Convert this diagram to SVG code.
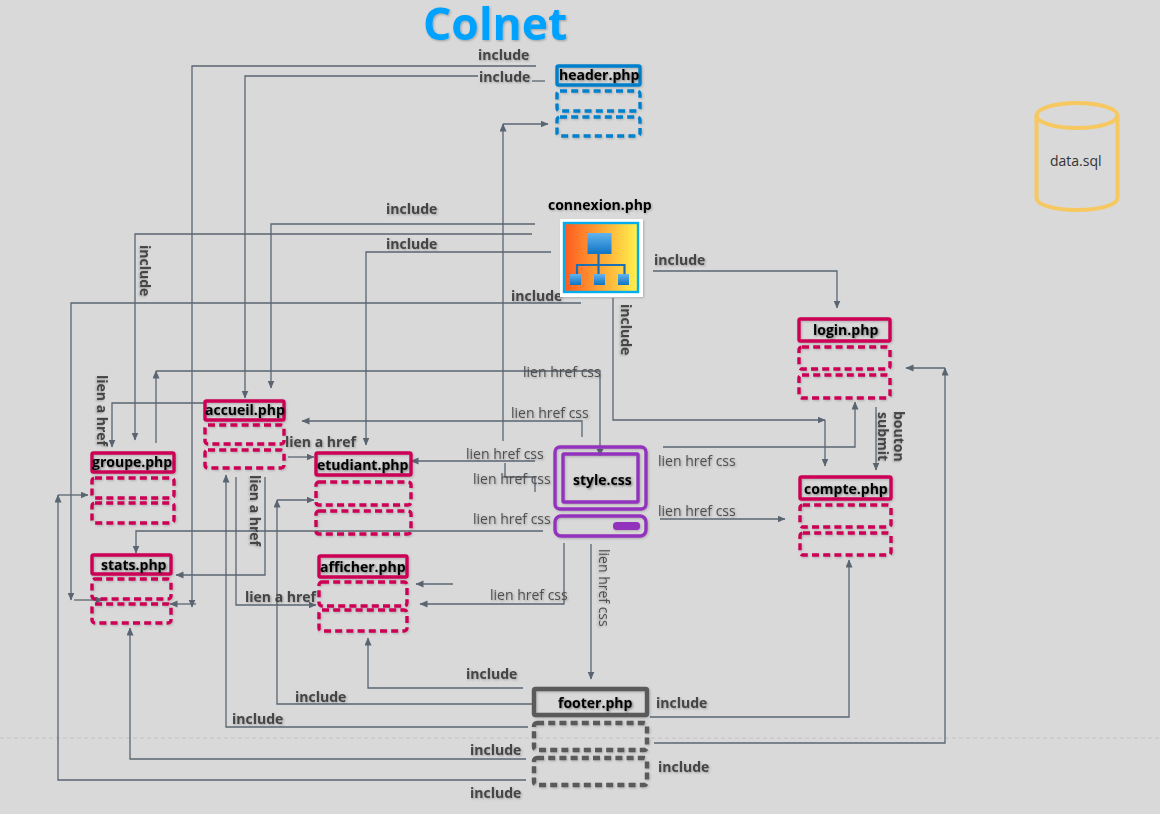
<svg xmlns="http://www.w3.org/2000/svg" width="1160" height="814" viewBox="0 0 1160 814">
<style>
text{font-family:"Open Sans","Liberation Sans",sans-serif}
.lb{font-size:14px;font-weight:700;fill:#444;filter:url(#ts)}
.lh{font-size:14px;font-weight:400;fill:#4f4f4f;filter:url(#ts)}
.nt{font-size:14px;font-weight:700;fill:#000;filter:url(#ts)}
.c{fill:none;stroke:#5a6572;stroke-width:1.3}
.a{marker-end:url(#arr)}
.s{fill:none;stroke-width:3.4;stroke-linejoin:round}
.d{fill:none;stroke-width:3.4;stroke-dasharray:7 4.2;stroke-linejoin:round}
.r{stroke:#cc0055}.b{stroke:#0080cc}.g{stroke:#5a5a5a}.p{stroke:#9232bd}
</style>
<defs>
<marker id="arr" markerWidth="9" markerHeight="8" refX="7.5" refY="3.5" orient="auto" markerUnits="userSpaceOnUse"><path d="M0 0L8 3.500L0 7Z" fill="#5a6572"/></marker>
<filter id="ts" x="-10%" y="-30%" width="120%" height="170%"><feDropShadow dx="1" dy="1" stdDeviation="0.9" flood-color="#000" flood-opacity="0.28"/></filter>
<filter id="sh" x="-10%" y="-15%" width="120%" height="130%"><feDropShadow dx="1" dy="1" stdDeviation="1" flood-color="#000" flood-opacity="0.2"/></filter>
<linearGradient id="og" x1="0" x2="1" y1="0" y2="0"><stop offset="0" stop-color="#ff5a1f"/><stop offset="1" stop-color="#fff24d"/></linearGradient>
<linearGradient id="bl" x1="0" x2="0" y1="0" y2="1"><stop offset="0" stop-color="#62b4ee"/><stop offset="1" stop-color="#0f74c4"/></linearGradient>
</defs>
<rect width="1160" height="814" fill="#d9d9d9"/>
<line x1="0" y1="738" x2="1160" y2="738" stroke="#bdbdbd" stroke-width="0.8" stroke-dasharray="4 3"/>
<text x="423" y="40" font-size="44.500" font-weight="700" fill="#00a2ff" filter="url(#ts)">Colnet</text>

<g id="connectors">
<path class="c a" d="M536 66H192V607"/>
<path class="c a" d="M478 76H245V398"/>
<path class="c" d="M532 81H545"/>
<path class="c a" d="M535 224H271V388"/>
<path class="c a" d="M532 234H135V440"/>
<path class="c a" d="M551 252H366V445"/>
<path class="c a" d="M581 303H71V600"/>
<path class="c a" d="M74 600H103"/>
<path class="c a" d="M653 271H837V308"/>
<path class="c a" d="M613 298V420H825"/>
<path class="c a" d="M825 420V466"/>
<path class="c a" d="M663 447H855V402"/>
<path class="c a" d="M876 407V470"/>
<path class="c a" d="M660 519H785"/>
<path class="c a" d="M650 717H849V560"/>
<path class="c a" d="M654 743H945V368"/>
<path class="c a" d="M945 368H906"/>
<path class="c a" d="M156 443V371"/>
<path class="c a" d="M156 371H600V456"/>
<path class="c a" d="M582 437V421H302"/>
<path class="c a" d="M503 441V124"/>
<path class="c a" d="M503 124H548"/>
<path class="c a" d="M535 461H411"/>
<path class="c" d="M505 463V477H535V492"/>
<path class="c a" d="M543 531H136V553"/>
<path class="c a" d="M564 543V604H420"/>
<path class="c a" d="M453 584H416"/>
<path class="c a" d="M591 544V679"/>
<path class="c a" d="M205 403H112V447"/>
<path class="c a" d="M265 477V575H176"/>
<path class="c a" d="M236 477V605H316"/>
<path class="c a" d="M288 457H314"/>
<path class="c a" d="M196 604H170"/>
<path class="c a" d="M523 688H368V638"/>
<path class="c a" d="M532 704H277V500"/>
<path class="c a" d="M277 500H314"/>
<path class="c a" d="M528 727H226V475"/>
<path class="c a" d="M526 759H130V628"/>
<path class="c a" d="M526 780H58V495"/>
<path class="c a" d="M58 495H88"/>
</g>

<g id="labels">
<text class="lb" x="478" y="60">include</text>
<text class="lb" x="479" y="82">include</text>
<text class="lb" x="386" y="214">include</text>
<text class="lb" x="386" y="249">include</text>
<text class="lb" x="511" y="301">include</text>
<text class="lb" x="654" y="265">include</text>
<text class="lb" transform="translate(140,245) rotate(90)">include</text>
<text class="lb" transform="translate(621,304) rotate(90)">include</text>
<text class="lb" transform="translate(97,375) rotate(90)">lien a href</text>
<text class="lb" transform="translate(250,475) rotate(90)">lien a href</text>
<text class="lb" x="285" y="447">lien a href</text>
<text class="lb" x="245" y="602">lien a href</text>
<text class="lb" transform="translate(894,411) rotate(90)">bouton</text>
<text class="lb" transform="translate(878,412) rotate(90)">submit</text>
<text class="lh" x="523" y="377">lien href css</text>
<text class="lh" x="511" y="418">lien href css</text>
<text class="lh" x="466" y="459">lien href css</text>
<text class="lh" x="473" y="484">lien href css</text>
<text class="lh" x="473" y="524">lien href css</text>
<text class="lh" x="490" y="600">lien href css</text>
<text class="lh" x="658" y="466">lien href css</text>
<text class="lh" x="658" y="516">lien href css</text>
<text class="lh" transform="translate(599,549) rotate(90)">lien href css</text>
<text class="lb" x="466" y="679">include</text>
<text class="lb" x="295" y="702">include</text>
<text class="lb" x="232" y="724">include</text>
<text class="lb" x="470" y="755">include</text>
<text class="lb" x="470" y="798">include</text>
<text class="lb" x="656" y="708">include</text>
<text class="lb" x="658" y="772">include</text>
</g>

<g id="header" filter="url(#sh)">
<rect class="s b" x="557" y="66" width="83" height="19" rx="1.5"/>
<rect class="d b" x="557" y="91" width="83" height="20" rx="3"/>
<rect class="d b" x="557" y="117" width="83" height="19" rx="3"/>
<text class="nt" x="559" y="80">header.php</text>
</g>

<g id="connexion">
<text class="nt" x="548" y="210">connexion.php</text>
<rect x="560" y="219" width="83" height="78" fill="#fff" filter="url(#sh)"/>
<rect x="564" y="223" width="74" height="69" fill="url(#og)" stroke="#00aeef" stroke-width="2.4"/>
<rect x="587.500" y="233" width="24" height="21" fill="url(#bl)"/>
<path d="M598.500 254V275M577 274V265H624.500V274" fill="none" stroke="#1a6fb5" stroke-width="2.2"/>
<rect x="570" y="274" width="11" height="11" fill="url(#bl)"/>
<rect x="594" y="274" width="11" height="11" fill="url(#bl)"/>
<rect x="618" y="274" width="11" height="11" fill="url(#bl)"/>
</g>

<g id="login" filter="url(#sh)">
<rect class="s r" x="799" y="319" width="91" height="22" rx="1.5"/>
<rect class="d r" x="799" y="347" width="91" height="22" rx="3"/>
<rect class="d r" x="799" y="375" width="91" height="23" rx="3"/>
<text class="nt" x="813" y="335">login.php</text>
</g>

<g id="compte" filter="url(#sh)">
<rect class="s r" x="800" y="477" width="91" height="22" rx="1.5"/>
<rect class="d r" x="800" y="505" width="91" height="22" rx="3"/>
<rect class="d r" x="800" y="533" width="91" height="22" rx="3"/>
<text class="nt" x="804" y="494">compte.php</text>
</g>

<g id="accueil" filter="url(#sh)">
<rect class="s r" x="205" y="401" width="79" height="19" rx="1.500"/>
<rect class="d r" x="205" y="425" width="79" height="19" rx="3"/>
<rect class="d r" x="205" y="450" width="79" height="18" rx="3"/>
<text class="nt" x="205" y="415">accueil.php</text>
</g>

<g id="groupe" filter="url(#sh)">
<rect class="s r" x="92" y="453" width="82" height="19" rx="1.5"/>
<rect class="d r" x="92" y="478" width="82" height="20" rx="3"/>
<rect class="d r" x="92" y="503" width="82" height="20" rx="3"/>
<text class="nt" x="92" y="467">groupe.php</text>
</g>

<g id="stats" filter="url(#sh)">
<rect class="s r" x="92" y="555" width="79" height="19" rx="1.5"/>
<rect class="d r" x="92" y="579" width="79" height="20" rx="3"/>
<rect class="d r" x="92" y="604" width="79" height="19" rx="3"/>
<text class="nt" x="101" y="570">stats.php</text>
</g>

<g id="etudiant" filter="url(#sh)">
<rect class="s r" x="316" y="453" width="95" height="22" rx="1.5"/>
<rect class="d r" x="316" y="482" width="95" height="23" rx="3"/>
<rect class="d r" x="316" y="511" width="95" height="23" rx="3"/>
<text class="nt" x="317" y="470">etudiant.php</text>
</g>

<g id="afficher" filter="url(#sh)">
<rect class="s r" x="319" y="556" width="88" height="21" rx="1.5"/>
<rect class="d r" x="319" y="582" width="88" height="24" rx="3"/>
<rect class="d r" x="319" y="610" width="88" height="21" rx="3"/>
<text class="nt" x="320" y="572">afficher.php</text>
</g>

<g id="style" filter="url(#sh)">
<rect class="s p" x="555" y="447" width="91" height="62" rx="5"/>
<rect class="s p" x="563" y="454" width="75" height="48" rx="1"/>
<rect class="s p" x="555" y="516" width="91" height="20" rx="6"/>
<rect x="613" y="522" width="27" height="8" rx="3.5" fill="#9232bd"/>
<text class="nt" x="573" y="485">style.css</text>
</g>

<g id="footer" filter="url(#sh)">
<rect class="s g" x="534" y="689" width="113" height="26" rx="1.5" style="stroke-width:4.4"/>
<rect class="d g" x="534" y="723" width="113" height="27" rx="3" style="stroke-width:4.4"/>
<rect class="d g" x="534" y="758" width="113" height="27" rx="3" style="stroke-width:4.4"/>
<text class="nt" x="558" y="708">footer.php</text>
</g>

<g id="data">
<path d="M1036.500 115V198C1036.500 205 1055 210 1077 210S1117.500 205 1117.500 198V115" fill="none" stroke="#f6c85f" stroke-width="4"/>
<ellipse cx="1077" cy="115.500" rx="40.500" ry="12.500" fill="none" stroke="#f6c85f" stroke-width="4"/>
<text x="1050" y="166" font-size="14" fill="#333">data.sql</text>
</g>
</svg>
